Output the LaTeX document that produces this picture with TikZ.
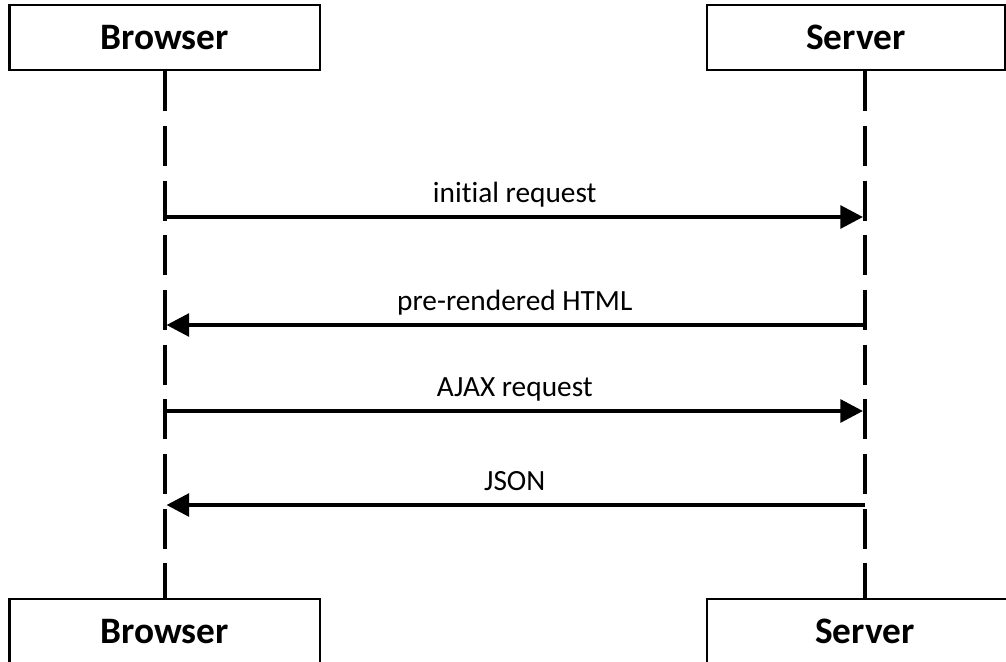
\documentclass[tikz,border=0pt]{standalone}
\usepackage{fontspec}
\setmainfont{Carlito}[Ligatures={NoCommon}]
\usetikzlibrary{arrows.meta,positioning}

\begin{document}
\begin{tikzpicture}[x=0.75pt, y=-0.75pt,
    actor/.style={draw, line width=2pt, minimum height=48.75pt, inner sep=0pt, font=\fontsize{28}{32}\selectfont\bfseries},
    life/.style={line width=3pt, dash pattern=on 30pt off 11pt},
    msg/.style={-{Triangle[length=17pt, width=17pt]}, line width=3pt, shorten >=1.5pt},
    lbl/.style={anchor=base, yshift=11pt, font=\fontsize{22}{26}\selectfont},
  ]
  \useasboundingbox (0,0) rectangle (1006,661);
  \clip (0,0) rectangle (1006,661);

  \node[actor, minimum width=233pt] (bT) at (164.5,37.5) {Browser};
  \node[actor, minimum width=223.5pt] (sT) at (856,37.5) {Server};
  \node[actor, minimum width=233pt] (bB) at (164.5,631.5) {Browser};
  \node[actor, minimum width=237pt] (sB) at (865,631.5) {Server};

  % lifelines
  \draw[life] (bT.south) -- (bB.north);
  \draw[life] (sB.north |- sT.south) -- (sB.north);

  \foreach \y [count=\i] in {217,325,411,505} {
    \coordinate (b\i) at (bB.north |- 0,\y);
    \coordinate (s\i) at (sB.north |- 0,\y);
  }

  \draw[msg] (b1) -- node[lbl] {initial request} (s1);
  \draw[msg] (s2) -- node[lbl] {pre-rendered HTML} (b2);
  \draw[msg] (b3) -- node[lbl] {AJAX request} (s3);
  \draw[msg] (s4) -- node[lbl] {JSON} (b4);
\end{tikzpicture}
\end{document}
